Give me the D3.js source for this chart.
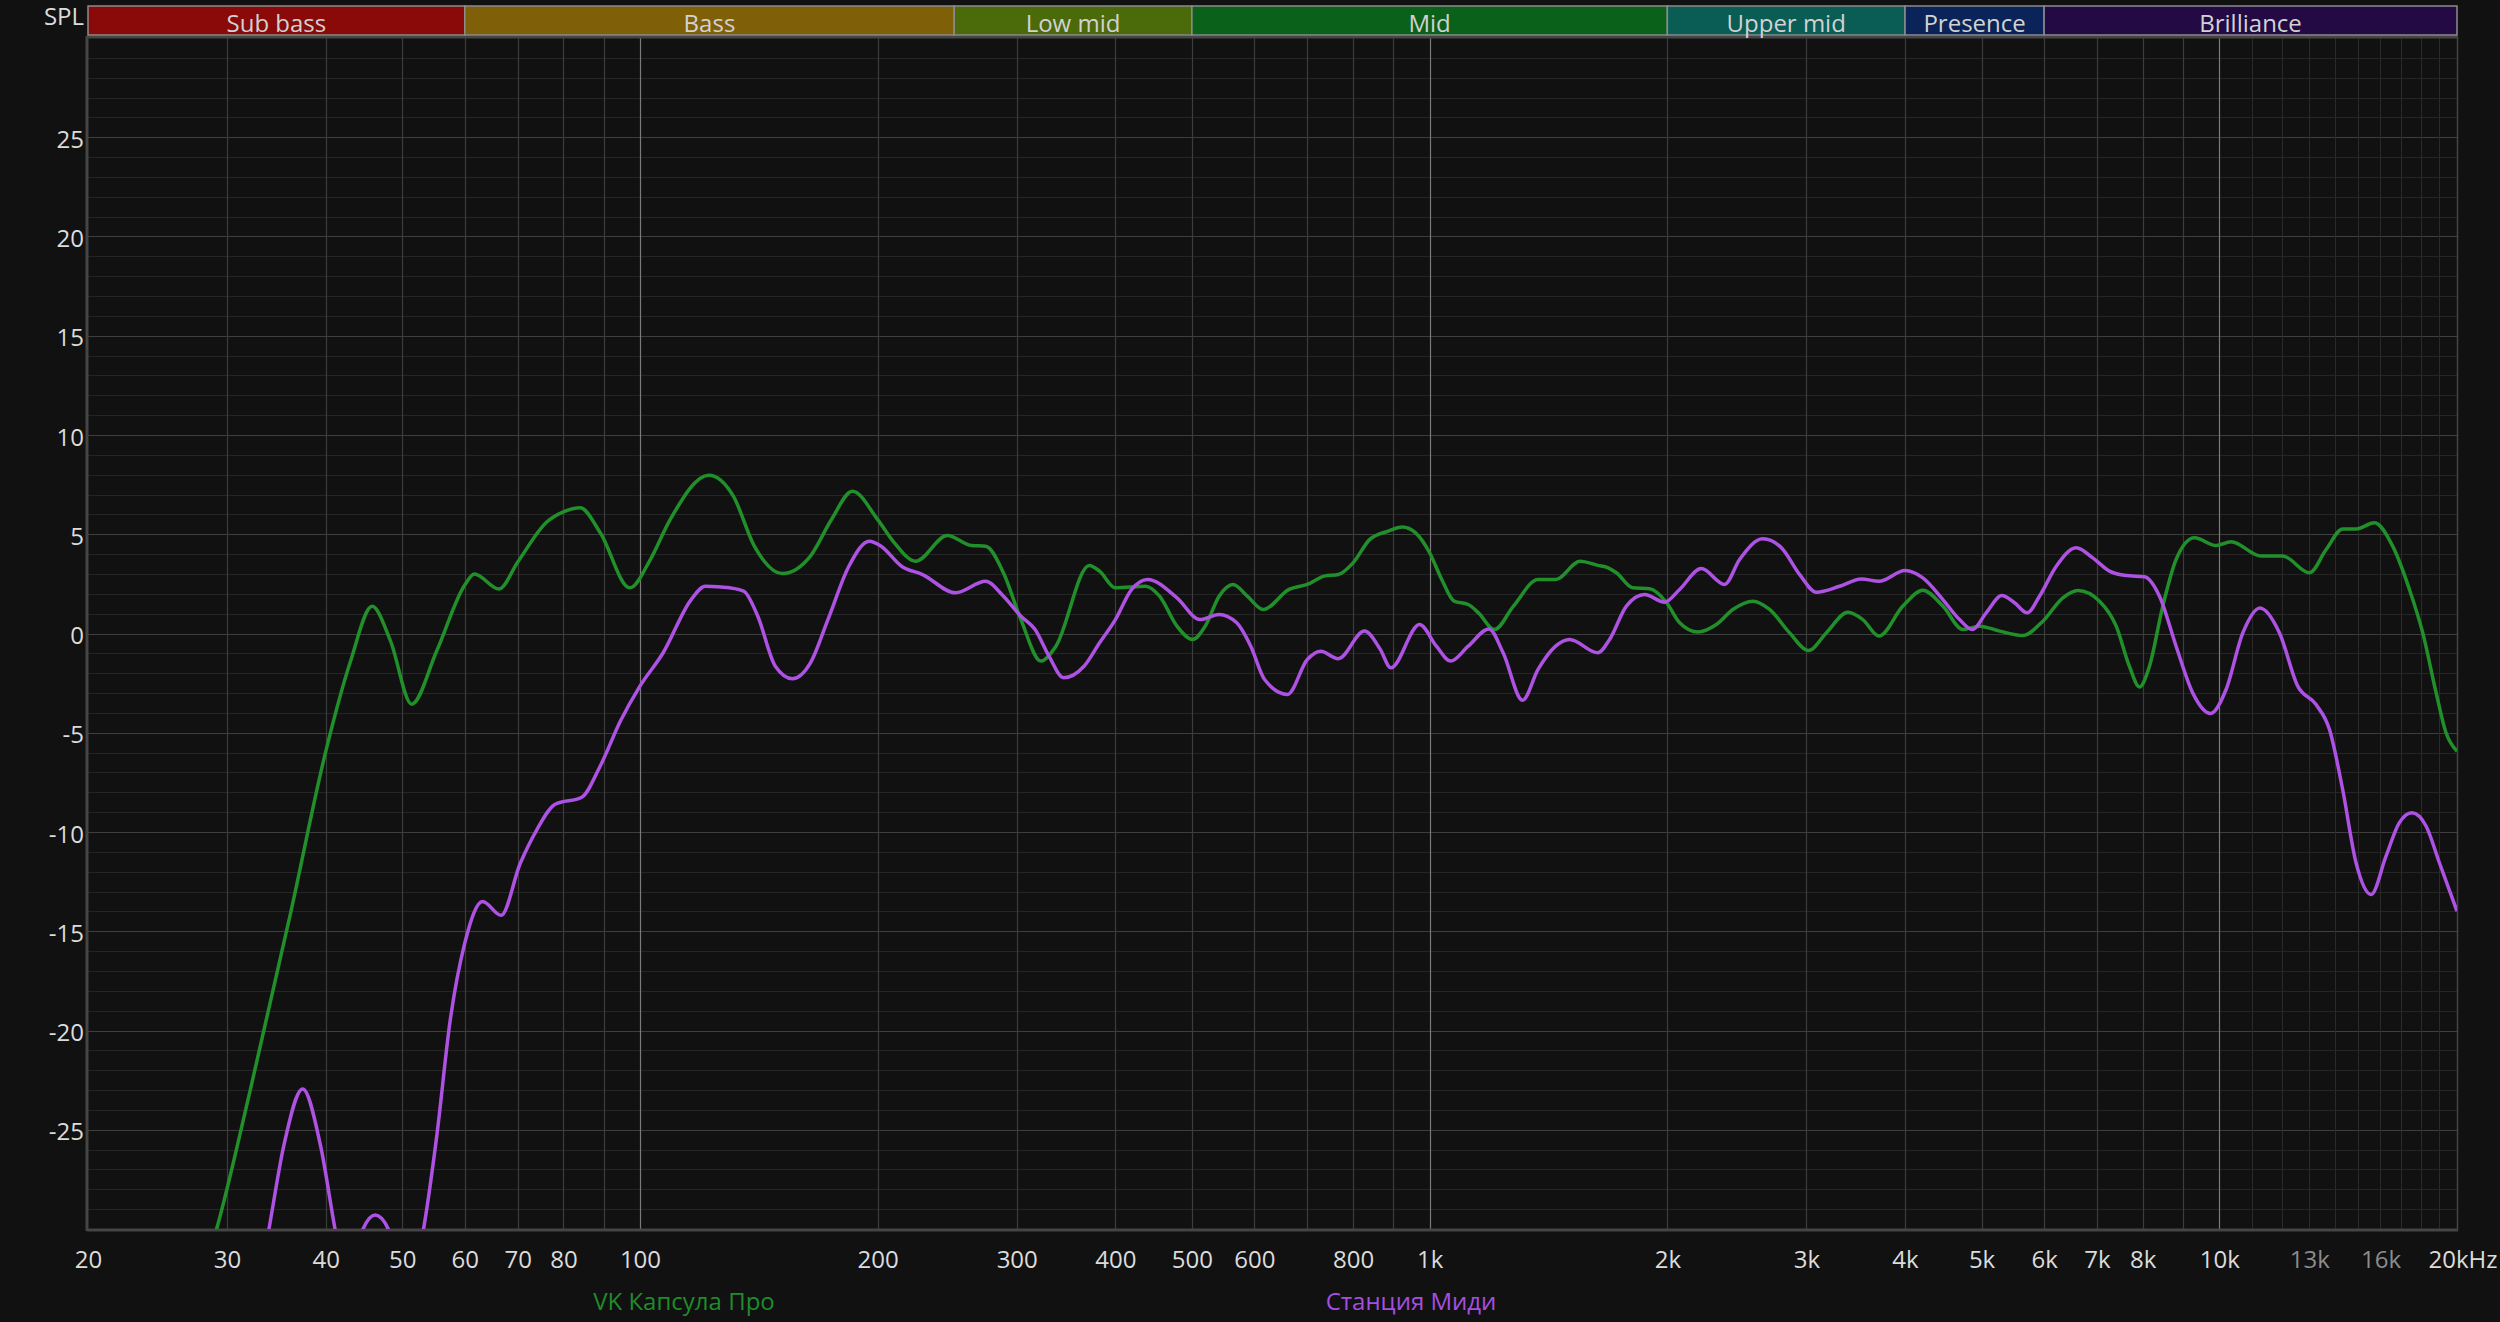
<!DOCTYPE html>
<html>
<head>
<meta charset="utf-8">
<script src="https://cdn.jsdelivr.net/npm/d3@7/dist/d3.min.js"></script>
<style>
  html, body { margin: 0; padding: 0; background: #111111; }
  svg { display: block; }
  text { font-family: "Open Sans", "Noto Sans", sans-serif; }
</style>
</head>
<body>
<svg id="chart" width="2500" height="1322"></svg>
<script>
// ---------- DATA ----------
const bandNames  = ["Sub bass", "Bass", "Low mid", "Mid", "Upper mid", "Presence", "Brilliance"];
const bandEdges  = [20, 60, 250, 500, 2000, 4000, 6000, 20000];
const bandColors = ["#8a0a0a", "#7f6008", "#4b6a0a", "#0a611a", "#0a5d55", "#0a2358", "#230a45"];

const xTickValues = [20, 30, 40, 50, 60, 70, 80, 100, 200, 300, 400, 500, 600, 800, 1000, 2000, 3000, 4000, 5000, 6000, 7000, 8000, 10000, 13000, 16000, 20000];
const xTickLabels = ["20", "30", "40", "50", "60", "70", "80", "100", "200", "300", "400", "500", "600", "800", "1k", "2k", "3k", "4k", "5k", "6k", "7k", "8k", "10k", "13k", "16k", "20kHz"];
const xDimLabels  = ["13k", "16k"];
const yTickValues = [-25, -20, -15, -10, -5, 0, 5, 10, 15, 20, 25];

const seriesNames = ["VK Капсула Про", "Станция Миди"];

const greenF = [27, 29.1, 32.1, 36.1, 40, 43, 45.8, 48.3, 51.4, 55.3, 60, 61.7, 66.3, 70, 76.2, 80, 84, 89, 97.1, 103, 109.2, 122.2, 131.3, 139.6, 151.5, 164.4, 174.8, 185.8, 200, 210, 223.4, 245, 263, 274, 288.6, 303.7, 322, 336.3, 370.6, 382, 400, 436.7, 455, 478.7, 501, 519.8, 541.3, 563.9, 587.6, 615.4, 663.8, 700, 735.5, 766.3, 800, 840, 884.5, 923.6, 960, 1000, 1036, 1074, 1119, 1153, 1208, 1277, 1372, 1444, 1551, 1633, 1683, 1724, 1808, 1900, 1996, 2073, 2187, 2307, 2421, 2567, 2695, 2857, 3019, 3179, 3386, 3537, 3707, 3975, 4213, 4466, 4734, 4971, 5270, 5638, 5978, 6337, 6623, 7052, 7404, 7694, 7923, 8158, 8481, 8817, 9302, 9908, 10350, 11295, 12030, 13010, 13655, 14330, 14900, 15720, 16580, 17410, 18100, 18820, 19370, 20000];
const greenV = [-34, -30, -23.0, -14.1, -5.95, -1.4, 1.37, -0.36, -3.56, -0.87, 2.44, 3.0, 2.24, 3.59, 5.62, 6.13, 6.34, 5.1, 2.3, 3.7, 5.74, 7.97, 6.92, 4.4, 3.02, 3.9, 5.74, 7.17, 5.74, 4.57, 3.64, 4.94, 4.43, 4.4, 3.06, 0.7, -1.39, -0.64, 3.43, 3.14, 2.3, 2.38, 1.88, 0.37, -0.3, 0.37, 1.88, 2.47, 1.88, 1.21, 2.22, 2.47, 2.89, 2.97, 3.56, 4.74, 5.15, 5.37, 5.07, 4.07, 2.72, 1.63, 1.46, 1.04, 0.2, 1.38, 2.72, 2.72, 3.64, 3.43, 3.31, 3.06, 2.3, 2.25, 1.55, 0.54, 0.07, 0.45, 1.21, 1.63, 1.21, 0.03, -0.86, 0.03, 1.07, 0.7, -0.13, 1.38, 2.18, 1.38, 0.2, 0.37, 0.12, -0.1, 0.62, 1.8, 2.17, 1.63, 0.37, -1.65, -2.69, -1.65, 1.38, 3.73, 4.82, 4.43, 4.62, 3.9, 3.9, 3.06, 4.23, 5.27, 5.27, 5.58, 4.4, 2.22, 0.03, -2.99, -5.0, -5.93];

const purpleF = [32.5, 33.9, 35.4, 37.4, 39.4, 41.1, 42.5, 44.6, 46.2, 48.0, 50, 53.2, 55.3, 57.5, 60, 63.2, 66.7, 70.5, 74, 78.1, 84.4, 89, 94.5, 100, 107, 116.1, 121, 130, 135.4, 141, 148.4, 156, 164.4, 173, 183.9, 195.2, 202, 214.4, 228, 251, 274, 288.6, 303.7, 316.5, 329.6, 344, 365, 382, 400, 419, 439.4, 478.7, 511.7, 541, 569.8, 593.6, 618, 660.7, 700, 728, 766, 827, 866, 893, 971, 1020, 1063, 1119, 1189, 1239, 1311, 1372, 1444, 1504, 1633, 1690, 1775, 1872, 1984, 2073, 2208, 2363, 2469, 2642, 2789, 2942, 3088, 3305, 3521, 3707, 4000, 4213, 4466, 4689, 4866, 5068, 5304, 5504, 5711, 5920, 6217, 6590, 6915, 7260, 7620, 8040, 8400, 8817, 9254, 9747, 10200, 10710, 11260, 11920, 12570, 13260, 13790, 14330, 14900, 15570, 16260, 16900, 17540, 18280, 19000, 20000];
const purpleV = [-34, -30, -25.8, -22.95, -25.8, -30, -33, -30, -29.3, -30, -34, -30, -25.3, -19.5, -15.6, -13.5, -14.2, -11.6, -9.9, -8.6, -8.25, -6.7, -4.4, -2.65, -0.97, 1.71, 2.38, 2.3, 2.13, 0.87, -1.65, -2.28, -1.48, 0.7, 3.39, 4.65, 4.4, 3.39, 2.97, 2.05, 2.63, 1.88, 0.87, 0.2, -1.14, -2.23, -1.65, -0.47, 0.7, 2.2, 2.72, 1.8, 0.7, 0.96, 0.54, -0.64, -2.32, -3.07, -1.31, -0.89, -1.27, 0.12, -0.8, -1.73, 0.45, -0.64, -1.39, -0.64, 0.23, -0.97, -3.36, -1.81, -0.64, -0.3, -0.97, -0.3, 1.38, 1.96, 1.58, 2.22, 3.27, 2.47, 3.73, 4.77, 4.32, 2.97, 2.08, 2.38, 2.75, 2.63, 3.17, 2.8, 1.71, 0.7, 0.2, 1.04, 1.91, 1.55, 1.04, 1.88, 3.39, 4.32, 3.81, 3.14, 2.92, 2.86, 1.88, -0.64, -2.99, -4.03, -2.82, 0.03, 1.29, 0.03, -2.65, -3.58, -4.84, -7.86, -11.55, -13.15, -11.22, -9.54, -9.03, -9.71, -11.55, -13.99];

// ---------- LAYOUT ----------
const W = 2500, H = 1322;
const plotL = 88, plotR = 2457, plotT = 38, plotB = 1229;
const bandT = 6, bandB = 35;

const x = d3.scaleLog().domain([20, 20000]).range([plotL, plotR]);
const y = d3.scaleLinear().domain([-30, 30]).range([plotB, plotT]);

const svg = d3.select("#chart");
svg.append("rect").attr("width", W).attr("height", H).attr("fill", "#111111");

// ---------- GRID ----------
const grid = svg.append("g");
const minorDb = d3.range(-29, 30, 1).filter(v => v % 5 !== 0);
grid.selectAll("line.hmin").data(minorDb).join("line")
  .attr("x1", plotL).attr("x2", plotR)
  .attr("y1", d => Math.round(y(d)) + 0.5).attr("y2", d => Math.round(y(d)) + 0.5)
  .attr("stroke", "#252525").attr("stroke-width", 1);
const majorDb = d3.range(-25, 30, 5);
grid.selectAll("line.hmaj").data(majorDb).join("line")
  .attr("x1", plotL).attr("x2", plotR)
  .attr("y1", d => Math.round(y(d)) + 0.5).attr("y2", d => Math.round(y(d)) + 0.5)
  .attr("stroke", "#3e3e3e").attr("stroke-width", 1.2);

const vLines = [];
[10, 100, 1000].forEach(dec => {
  for (let m = 1; m <= 9; m++) {
    const f = dec * m * 1;
    if (f > 20 && f < 20000 && dec * m >= 30) vLines.push(f * (dec === 10 ? 1 : 1));
  }
});
// build frequency list explicitly
const vFreqs = [];
for (let f = 30; f <= 90; f += 10) vFreqs.push(f);
for (let f = 100; f <= 900; f += 100) vFreqs.push(f);
for (let f = 1000; f <= 9000; f += 1000) vFreqs.push(f);
vFreqs.push(10000);
const vMinor = [];
for (let f = 11000; f <= 19000; f += 1000) vMinor.push(f);
const bright = [100, 1000, 10000];

grid.selectAll("line.vmin").data(vMinor).join("line")
  .attr("x1", d => Math.round(x(d)) + 0.5).attr("x2", d => Math.round(x(d)) + 0.5)
  .attr("y1", plotT).attr("y2", plotB)
  .attr("stroke", "#2a2a2a").attr("stroke-width", 1);
grid.selectAll("line.vmaj").data(vFreqs).join("line")
  .attr("x1", d => Math.round(x(d)) + 0.5).attr("x2", d => Math.round(x(d)) + 0.5)
  .attr("y1", plotT).attr("y2", plotB)
  .attr("stroke", d => bright.includes(d) ? "#7a7a7a" : "#3c3c3c").attr("stroke-width", 1.2);

// plot frame
svg.append("line").attr("x1", plotL - 1).attr("x2", plotR).attr("y1", plotT - 1).attr("y2", plotT - 1)
  .attr("stroke", "#454545").attr("stroke-width", 3);
svg.append("line").attr("x1", plotL - 1).attr("x2", plotR + 1).attr("y1", plotB + 1).attr("y2", plotB + 1)
  .attr("stroke", "#454545").attr("stroke-width", 3);
svg.append("line").attr("x1", plotL - 1).attr("x2", plotL - 1).attr("y1", plotT - 2).attr("y2", plotB + 2)
  .attr("stroke", "#454545").attr("stroke-width", 3);
svg.append("line").attr("x1", plotR + 0.5).attr("x2", plotR + 0.5).attr("y1", plotT - 2).attr("y2", plotB + 2)
  .attr("stroke", "#454545").attr("stroke-width", 1.5);

// ---------- BANDS ----------
const bands = bandNames.map((n, i) => ({ name: n, lo: bandEdges[i], hi: bandEdges[i + 1], color: bandColors[i] }));
const bg = svg.append("g");
bg.selectAll("rect").data(bands).join("rect")
  .attr("x", d => x(d.lo)).attr("width", d => x(d.hi) - x(d.lo))
  .attr("y", bandT).attr("height", bandB - bandT)
  .attr("fill", d => d.color)
  .attr("stroke", "#8c8c8c").attr("stroke-width", 1.5);
bg.selectAll("text").data(bands).join("text")
  .attr("x", d => (x(d.lo) + x(d.hi)) / 2).attr("y", 32)
  .attr("text-anchor", "middle")
  .attr("font-size", 24)
  .attr("fill", "#d2d2d2")
  .text(d => d.name);

svg.append("text").attr("x", 84).attr("y", 25).attr("text-anchor", "end")
  .attr("font-size", 24).attr("fill", "#dcdcdc").text("SPL");

// ---------- AXES ----------
const xAxis = d3.axisBottom(x).tickValues(xTickValues).tickSize(0).tickPadding(0)
  .tickFormat((d, i) => xTickLabels[i]);
const gx = svg.append("g").attr("transform", `translate(0, 1268)`).call(xAxis);
gx.select(".domain").remove();
gx.selectAll("text")
  .attr("dy", 0).attr("y", 0)
  .attr("font-size", 24)
  .attr("font-family", "\"Open Sans\", \"Noto Sans\", sans-serif")
  .attr("fill", (d, i) => xDimLabels.includes(xTickLabels[i]) ? "#8c8c8c" : "#dcdcdc")
  .attr("text-anchor", (d, i) => i === xTickLabels.length - 1 ? "end" : "middle")
  .attr("dx", (d, i) => i === xTickLabels.length - 1 ? 40 : 0);

const yAxis = d3.axisLeft(y).tickValues(yTickValues).tickSize(0).tickPadding(0).tickFormat(d => String(d));
const gy = svg.append("g").attr("transform", `translate(84, 0)`).call(yAxis);
gy.select(".domain").remove();
gy.selectAll("text")
  .attr("x", 0).attr("dy", "0.42em")
  .attr("font-size", 24)
  .attr("font-family", "\"Open Sans\", \"Noto Sans\", sans-serif")
  .attr("fill", "#dcdcdc");

// ---------- CURVES ----------
svg.append("clipPath").attr("id", "clip").append("rect")
  .attr("x", plotL).attr("y", plotT).attr("width", plotR - plotL).attr("height", plotB - plotT);

const line = d3.line().x(d => x(d[0])).y(d => y(d[1])).curve(d3.curveMonotoneX);
const curves = svg.append("g").attr("clip-path", "url(#clip)");
curves.append("path").datum(greenF.map((f, i) => [f, greenV[i]]))
  .attr("d", line).attr("fill", "none").attr("stroke", "#21902b").attr("stroke-width", 3.5)
  .attr("stroke-linejoin", "round");
curves.append("path").datum(purpleF.map((f, i) => [f, purpleV[i]]))
  .attr("d", line).attr("fill", "none").attr("stroke", "#ad52e3").attr("stroke-width", 3.5)
  .attr("stroke-linejoin", "round");

// ---------- LEGEND ----------
const legendX = [684, 1411];
const legendColors = ["#1f8c2a", "#a64ee0"];
svg.selectAll("text.legend").data(seriesNames).join("text")
  .attr("class", "legend")
  .attr("x", (d, i) => legendX[i]).attr("y", 1310)
  .attr("text-anchor", "middle").attr("font-size", 24)
  .attr("fill", (d, i) => legendColors[i])
  .text(d => d);
</script>
</body>
</html>
